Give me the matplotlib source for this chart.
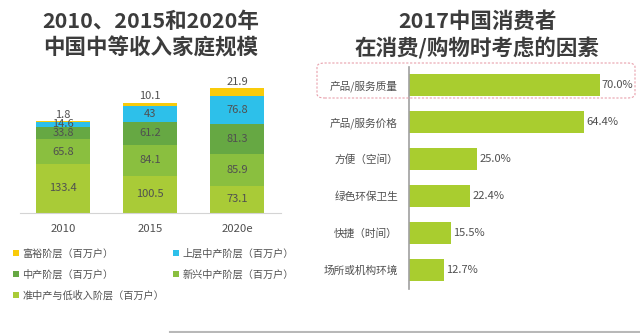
import matplotlib.pyplot as plt
from matplotlib.patches import FancyBboxPatch
from matplotlib.lines import Line2D

plt.rcParams['font.family'] = ['Noto Sans CJK SC', 'DejaVu Sans']

# left chart: middle-income households by tier (million households)
years = ["2010", "2015", "2020e"]
tiers = ["准中产与低收入阶层（百万户）", "新兴中产阶层（百万户）", "中产阶层（百万户）",
         "上层中产阶层（百万户）", "富裕阶层（百万户）"]
lower = [133.4, 100.5, 73.1]
emerging = [65.8, 84.1, 85.9]
middle = [33.8, 61.2, 81.3]
upper = [14.6, 43, 76.8]
affluent = [1.8, 10.1, 21.9]
tier_colors = ["#a9cb37", "#8abf3f", "#66a843", "#2dc0ea", "#f9cb0a"]

# right chart: factors considered when shopping, 2017
factors = ["产品/服务质量", "产品/服务价格", "方便（空间）", "绿色环保卫生", "快捷（时间）", "场所或机构环境"]
shares = [70.0, 64.4, 25.0, 22.4, 15.5, 12.7]

W, H = 640, 333
fig = plt.figure(figsize=(W / 100, H / 100), dpi=100)
fig.patch.set_facecolor("white")
text_c = "#505050"
title_c = "#3c3c3c"

# ---- stacked bars
ax = fig.add_axes([19.5 / W, (H - 213) / H, 261 / W, 133 / H])
series = [lower, emerging, middle, upper, affluent]
bottoms = [0, 0, 0]
handles = []
for vals, col, name in zip(series, tier_colors, tiers):
    bars = ax.bar(range(len(years)), vals, bottom=bottoms, width=0.62, color=col, label=name)
    handles.append(bars)
    for i, v in enumerate(vals):
        if vals is affluent:
            ax.annotate(f"{v:g}", (i, bottoms[i] + v), xytext=(0, 4.5), textcoords="offset points",
                        ha="center", va="center", fontsize=8, color=text_c)
        else:
            ax.text(i, bottoms[i] + v / 2, f"{v:g}", ha="center", va="center", fontsize=8, color=text_c)
    bottoms = [b + v for b, v in zip(bottoms, vals)]

ax.set_xlim(-0.5, 2.5)
ax.set_ylim(0, 360)
ax.set_xticks(range(len(years)))
ax.set_xticklabels(years, fontsize=8.2, color=text_c)
ax.tick_params(axis="x", length=0, pad=8)
ax.set_yticks([])
for s in ["left", "right", "top"]:
    ax.spines[s].set_visible(False)
ax.spines["bottom"].set_color("#d4d4d4")

# legend: two columns, filled column-wise
order = [4, 2, 0, 3, 1]
fig.legend([handles[k] for k in order], [tiers[k] for k in order], ncol=2,
           loc="upper left", bbox_to_anchor=(9 / W, 1 - 244 / H), frameon=False,
           fontsize=7.3, labelcolor=text_c, handlelength=0.6, handleheight=0.6,
           handletextpad=0.3, columnspacing=0.9, labelspacing=1.05, borderaxespad=0)

fig.text(151 / W, 1 - 21 / H, "2010、2015和2020年", ha="center", va="center",
         fontsize=15.5, fontweight="bold", color=title_c)
fig.text(151 / W, 1 - 48 / H, "中国中等收入家庭规模", ha="center", va="center",
         fontsize=15.5, fontweight="bold", color=title_c)

# ---- horizontal bars
bx = fig.add_axes([409 / W, (H - 288.5) / H, 218 / W, 222 / H])
bx.barh(range(len(factors)), shares, height=0.62, color="#a9cd2f")
for i, v in enumerate(shares):
    bx.annotate(f"{v:.1f}%", (v, i), xytext=(1.5, 0), textcoords="offset points",
                ha="left", va="center", fontsize=8, color=text_c)
bx.set_xlim(0, 80)
bx.set_ylim(5.5, -0.5)
bx.set_yticks(range(len(factors)))
bx.set_yticklabels(factors, fontsize=7.7, color=text_c)
bx.tick_params(axis="y", length=0, pad=8)
bx.set_xticks([])
for s in ["right", "top", "bottom"]:
    bx.spines[s].set_visible(False)
bx.spines["left"].set_color("#a0a0a0")
bx.spines["left"].set_linewidth(1.2)

# dashed highlight around the top factor
fig.patches.append(FancyBboxPatch((317 / W, 1 - 98 / H), 318 / W, 35 / H,
                                  boxstyle="round,pad=0,rounding_size=0.012",
                                  transform=fig.transFigure, fill=False,
                                  edgecolor="#e8a0ac", linestyle=(0, (2, 1.5)), linewidth=0.8))

fig.text(477 / W, 1 - 21 / H, "2017中国消费者", ha="center", va="center",
         fontsize=15.5, fontweight="bold", color=title_c)
fig.text(477 / W, 1 - 48 / H, "在消费/购物时考虑的因素", ha="center", va="center",
         fontsize=15.5, fontweight="bold", color=title_c)

# slide edge along the bottom
fig.add_artist(Line2D([170 / W, 1], [1.5 / H, 1.5 / H], transform=fig.transFigure,
                      color="#b8b8b8", linewidth=1.5))

fig.savefig("out.png", dpi=100)
